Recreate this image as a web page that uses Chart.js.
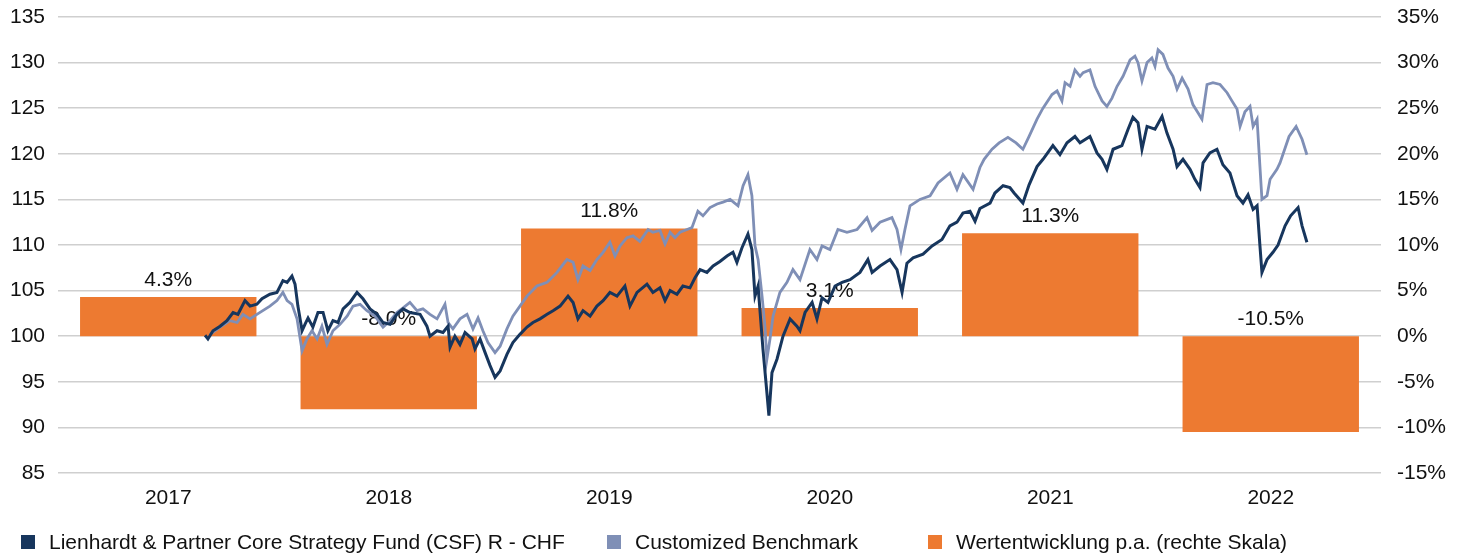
<!DOCTYPE html>
<html>
<head>
<meta charset="utf-8">
<script src="https://cdn.jsdelivr.net/npm/chart.js@4/dist/chart.umd.min.js"></script>
<style>
  html, body { margin: 0; padding: 0; background: #fff; }
  #wrap { width: 1463px; height: 556px; position: relative; }
</style>
</head>
<body>
<div id="wrap"><canvas id="perfChart"></canvas></div>
<script>
// Jahre (Kategorien der Balken)
const years = ['2017', '2018', '2019', '2020', '2021', '2022'];
// Wertentwicklung p.a. in % (rechte Skala)
const yearlyReturns = [4.3, -8.0, 11.8, 3.1, 11.3, -10.5];

// Fonds (indexiert auf 100), Zeit als Dezimaljahr
const fundYears = [
  2017.667, 2017.680, 2017.703, 2017.735, 2017.766, 2017.794, 2017.816, 2017.848, 2017.871, 2017.902,
  2017.925, 2017.961, 2017.993, 2018.020, 2018.039, 2018.061, 2018.075, 2018.088, 2018.107, 2018.120,
  2018.134, 2018.156, 2018.179, 2018.202, 2018.224, 2018.247, 2018.270, 2018.293, 2018.324, 2018.356,
  2018.383, 2018.415, 2018.447, 2018.474, 2018.506, 2018.537, 2018.565, 2018.596, 2018.642, 2018.673,
  2018.687, 2018.719, 2018.746, 2018.769, 2018.778, 2018.800, 2018.823, 2018.846, 2018.878, 2018.891,
  2018.914, 2018.937, 2018.959, 2018.982, 2019.005, 2019.036, 2019.063, 2019.095, 2019.127, 2019.154,
  2019.186, 2019.218, 2019.245, 2019.277, 2019.313, 2019.336, 2019.358, 2019.381, 2019.413, 2019.444,
  2019.472, 2019.503, 2019.535, 2019.571, 2019.594, 2019.626, 2019.671, 2019.698, 2019.730, 2019.753,
  2019.776, 2019.807, 2019.834, 2019.866, 2019.889, 2019.912, 2019.943, 2019.971, 2020.002, 2020.034,
  2020.061, 2020.079, 2020.102, 2020.129, 2020.147, 2020.161, 2020.175, 2020.197, 2020.215, 2020.224,
  2020.238, 2020.261, 2020.288, 2020.320, 2020.351, 2020.365, 2020.388, 2020.420, 2020.442, 2020.465,
  2020.492, 2020.524, 2020.556, 2020.592, 2020.637, 2020.673, 2020.692, 2020.728, 2020.773, 2020.805,
  2020.828, 2020.850, 2020.878, 2020.923, 2020.964, 2021.009, 2021.045, 2021.077, 2021.104, 2021.136,
  2021.159, 2021.181, 2021.227, 2021.249, 2021.286, 2021.317, 2021.336, 2021.376, 2021.404, 2021.440,
  2021.467, 2021.512, 2021.544, 2021.576, 2021.612, 2021.635, 2021.680, 2021.712, 2021.735, 2021.757,
  2021.785, 2021.825, 2021.853, 2021.875, 2021.898, 2021.916, 2021.939, 2021.975, 2022.007, 2022.029,
  2022.057, 2022.075, 2022.102, 2022.134, 2022.156, 2022.179, 2022.193, 2022.224, 2022.256, 2022.283,
  2022.315, 2022.347, 2022.374, 2022.397, 2022.420, 2022.438, 2022.451, 2022.460, 2022.483, 2022.510,
  2022.533, 2022.565, 2022.590, 2022.624, 2022.642, 2022.664
];
const fundValues = [
  100.1, 99.7, 100.6, 101.1, 101.7, 102.6, 102.4, 103.9, 103.3, 103.5,
  104.1, 104.6, 104.8, 106.1, 105.9, 106.6, 105.7, 103.3, 100.6, 101.3,
  102.0, 101.0, 102.6, 102.6, 100.6, 101.7, 101.5, 103.0, 103.7, 104.8,
  104.1, 103.0, 102.4, 101.5, 101.3, 102.4, 103.0, 102.6, 102.4, 101.1,
  100.0, 100.6, 100.4, 101.1, 98.8, 100.0, 99.1, 100.4, 99.7, 98.6,
  99.7, 98.2, 96.8, 95.5, 96.2, 98.0, 99.3, 100.2, 101.0, 101.5,
  101.9, 102.4, 102.8, 103.3, 104.4, 103.7, 101.9, 102.8, 102.2, 103.3,
  103.9, 104.8, 104.4, 105.5, 103.3, 104.8, 105.7, 104.8, 105.3, 103.9,
  105.0, 104.6, 105.5, 105.3, 106.4, 107.3, 107.0, 107.7, 108.2, 108.8,
  109.2, 108.1, 109.7, 111.2, 109.5, 104.4, 105.5, 98.6, 93.8, 91.3,
  96.0, 97.5, 100.0, 101.9, 101.1, 100.6, 102.6, 103.7, 101.9, 104.2,
  103.7, 105.5, 105.9, 106.2, 107.0, 108.4, 107.0, 107.7, 108.4, 107.3,
  104.8, 108.0, 108.6, 109.0, 109.9, 110.6, 112.1, 112.5, 113.5, 113.7,
  112.6, 114.0, 114.6, 115.7, 116.5, 116.3, 115.7, 114.6, 116.6, 118.6,
  119.4, 120.9, 119.9, 121.2, 121.9, 121.2, 121.9, 120.1, 119.4, 118.3,
  120.5, 120.9, 122.7, 124.0, 123.4, 120.5, 123.0, 122.7, 124.1, 122.3,
  120.5, 118.6, 119.4, 118.3, 117.2, 116.3, 119.0, 120.1, 120.5, 118.8,
  117.9, 115.4, 114.6, 115.5, 113.9, 114.3, 109.9, 107.0, 108.4, 109.2,
  110.0, 112.1, 113.2, 114.1, 112.1, 110.3
];

// Customized Benchmark (indexiert auf 100)
const benchYears = [
  2017.689, 2017.735, 2017.780, 2017.812, 2017.839, 2017.871, 2017.902, 2017.961, 2017.993, 2018.020,
  2018.039, 2018.061, 2018.084, 2018.107, 2018.129, 2018.152, 2018.175, 2018.197, 2018.220, 2018.247,
  2018.279, 2018.311, 2018.338, 2018.370, 2018.401, 2018.438, 2018.474, 2018.506, 2018.537, 2018.565,
  2018.596, 2018.628, 2018.655, 2018.687, 2018.719, 2018.755, 2018.769, 2018.791, 2018.823, 2018.855,
  2018.882, 2018.905, 2018.927, 2018.950, 2018.982, 2019.005, 2019.036, 2019.063, 2019.095, 2019.127,
  2019.172, 2019.218, 2019.263, 2019.308, 2019.336, 2019.358, 2019.381, 2019.413, 2019.444, 2019.472,
  2019.503, 2019.526, 2019.549, 2019.580, 2019.608, 2019.639, 2019.676, 2019.698, 2019.730, 2019.753,
  2019.776, 2019.798, 2019.821, 2019.853, 2019.875, 2019.902, 2019.925, 2019.957, 2019.989, 2020.016,
  2020.048, 2020.084, 2020.107, 2020.129, 2020.147, 2020.161, 2020.175, 2020.193, 2020.206, 2020.215,
  2020.229, 2020.243, 2020.274, 2020.306, 2020.333, 2020.365, 2020.410, 2020.442, 2020.465, 2020.501,
  2020.537, 2020.578, 2020.624, 2020.669, 2020.692, 2020.728, 2020.782, 2020.805, 2020.823, 2020.841,
  2020.864, 2020.909, 2020.955, 2020.991, 2021.045, 2021.077, 2021.104, 2021.150, 2021.181, 2021.200,
  2021.236, 2021.268, 2021.308, 2021.345, 2021.376, 2021.404, 2021.440, 2021.467, 2021.508, 2021.531,
  2021.553, 2021.567, 2021.590, 2021.612, 2021.635, 2021.649, 2021.680, 2021.703, 2021.735, 2021.757,
  2021.780, 2021.803, 2021.830, 2021.862, 2021.884, 2021.898, 2021.916, 2021.939, 2021.961, 2021.975,
  2021.989, 2022.011, 2022.034, 2022.057, 2022.075, 2022.098, 2022.125, 2022.147, 2022.170, 2022.188,
  2022.211, 2022.238, 2022.270, 2022.302, 2022.324, 2022.347, 2022.361, 2022.383, 2022.406, 2022.420,
  2022.438, 2022.451, 2022.460, 2022.483, 2022.497, 2022.528, 2022.542, 2022.583, 2022.615, 2022.642,
  2022.664
];
const benchValues = [
  100.2, 101.0, 101.7, 101.5, 102.4, 101.9, 102.4, 103.3, 103.9, 104.8,
  103.9, 103.5, 101.9, 98.4, 99.7, 100.6, 99.7, 101.1, 99.1, 100.6,
  101.3, 102.2, 103.3, 103.5, 102.8, 102.2, 101.0, 101.7, 102.6, 103.1,
  103.7, 102.8, 103.0, 102.4, 101.9, 103.5, 101.5, 100.8, 101.9, 102.4,
  100.8, 102.0, 100.6, 99.3, 98.2, 98.9, 100.8, 102.2, 103.3, 104.4,
  105.5, 105.9, 107.0, 108.4, 108.1, 106.2, 107.7, 107.2, 108.4, 109.2,
  110.3, 108.8, 109.9, 110.8, 111.0, 110.4, 111.7, 111.4, 111.6, 110.1,
  111.4, 110.8, 111.4, 111.7, 111.9, 113.7, 113.2, 114.1, 114.5, 114.7,
  115.0, 114.3, 116.5, 117.7, 115.4, 109.9, 108.4, 104.4, 101.1, 97.5,
  99.7, 102.2, 104.8, 105.9, 107.3, 106.2, 109.5, 108.4, 109.9, 109.5,
  111.7, 111.4, 111.7, 113.0, 111.6, 112.5, 113.0, 111.7, 109.5, 111.7,
  114.3, 115.0, 115.4, 116.8, 117.9, 116.1, 117.7, 116.1, 118.5, 119.4,
  120.5, 121.2, 121.8, 121.2, 120.5, 121.9, 123.8, 125.0, 126.5, 126.9,
  125.8, 127.8, 127.4, 129.2, 128.5, 128.9, 129.2, 127.4, 125.8, 125.2,
  126.1, 127.4, 128.5, 130.3, 130.7, 130.0, 128.0, 130.0, 130.5, 129.6,
  131.4, 130.9, 129.4, 128.5, 127.1, 128.3, 127.1, 125.4, 124.5, 123.8,
  127.6, 127.8, 127.6, 126.7, 125.8, 124.9, 123.0, 124.6, 125.2, 123.0,
  123.8, 118.6, 115.0, 115.4, 117.2, 118.3, 119.0, 121.9, 123.0, 121.6,
  119.9
];

// Achsenbeschriftungen
const leftTicks = [85, 90, 95, 100, 105, 110, 115, 120, 125, 130, 135];
const rightTicks = [-15, -10, -5, 0, 5, 10, 15, 20, 25, 30, 35];

const legendItems = [
  'Lienhardt & Partner Core Strategy Fund (CSF) R - CHF',
  'Customized Benchmark',
  'Wertentwicklung p.a. (rechte Skala)'
];

const NAVY = '#17365D';
const SLATE = '#7F8FB6';
const ORANGE = '#ED7A31';
const FONT = '"Liberation Sans", Arial, sans-serif';

function toPoints(xs, ys) {
    return xs.map((x, i) => ({ x: x, y: ys[i] }));
}

// Prozentwerte oberhalb der Balken (unter den Linien gezeichnet)
const barLabels = {
    id: 'barLabels',
    afterDatasetDraw(chart, args) {
        if (args.index !== 2) return;
        const ctx = chart.ctx;
        const meta = args.meta;
        const zeroY = chart.scales.y1.getPixelForValue(0);
        ctx.save();
        ctx.font = '21px ' + FONT;
        ctx.fillStyle = '#111';
        ctx.textAlign = 'center';
        ctx.textBaseline = 'middle';
        meta.data.forEach((bar, i) => {
            const top = Math.min(bar.y, zeroY);
            ctx.fillText(yearlyReturns[i].toFixed(1) + '%', bar.x, top - 17);
        });
        ctx.restore();
    }
};

// Legende wie im Original, mit festen Abständen
const legendRow = {
    id: 'legendRow',
    afterDraw(chart) {
        const ctx = chart.ctx;
        const colors = [NAVY, SLATE, ORANGE];
        const boxX = [21, 607, 928];
        ctx.save();
        ctx.font = '21px ' + FONT;
        ctx.textBaseline = 'middle';
        ctx.textAlign = 'left';
        legendItems.forEach((txt, i) => {
            ctx.fillStyle = colors[i];
            ctx.fillRect(boxX[i], 535, 14, 14);
            ctx.fillStyle = '#111';
            ctx.fillText(txt, boxX[i] + 28, 543);
        });
        ctx.restore();
    }
};

// y-Achsen: feste Breite, kein Zusatzrand oben/unten
function fixYAxis(width) {
    return function(scale) {
        scale.width = width;
        scale.paddingTop = 0;
        scale.paddingBottom = 0;
    };
}

const ctx = document.getElementById('perfChart').getContext('2d');

const perfChart = new Chart(ctx, {
    type: 'bar',
    data: {
        labels: years,
        datasets: [
            {
                type: 'line',
                label: legendItems[0],
                data: toPoints(fundYears, fundValues),
                xAxisID: 'xt',
                yAxisID: 'y',
                borderColor: NAVY,
                borderWidth: 3,
                pointRadius: 0,
                tension: 0,
                order: 1
            },
            {
                type: 'line',
                label: legendItems[1],
                data: toPoints(benchYears, benchValues),
                xAxisID: 'xt',
                yAxisID: 'y',
                borderColor: SLATE,
                borderWidth: 2.8,
                pointRadius: 0,
                tension: 0,
                order: 2
            },
            {
                type: 'bar',
                label: legendItems[2],
                data: yearlyReturns,
                xAxisID: 'x',
                yAxisID: 'y1',
                backgroundColor: ORANGE,
                grouped: false,
                barPercentage: 1.0,
                categoryPercentage: 0.8,
                order: 3
            }
        ]
    },
    options: {
        responsive: true,
        maintainAspectRatio: false,
        animation: false,
        layout: {
            padding: { top: 17, left: 0, right: 0, bottom: 0 }
        },
        scales: {
            x: {
                type: 'category',
                offset: true,
                grid: { display: false, drawTicks: false },
                border: { display: false },
                ticks: {
                    padding: 13,
                    color: '#111',
                    font: { family: FONT, size: 21 }
                },
                afterFit: function(scale) { scale.height = 83; }
            },
            xt: {
                type: 'linear',
                display: false,
                offset: false,
                min: 2017,
                max: 2023
            },
            y: {
                position: 'left',
                min: 85,
                max: 135,
                afterBuildTicks: function(scale) {
                    scale.ticks = leftTicks.map(v => ({ value: v }));
                },
                grid: { color: '#CFCFCF', lineWidth: 1.5, drawTicks: false },
                border: { display: false },
                ticks: {
                    padding: 13,
                    color: '#111',
                    font: { family: FONT, size: 21 }
                },
                afterFit: fixYAxis(58)
            },
            y1: {
                position: 'right',
                min: -15,
                max: 35,
                afterBuildTicks: function(scale) {
                    scale.ticks = rightTicks.map(v => ({ value: v }));
                },
                grid: { display: false, drawTicks: false },
                border: { display: false },
                ticks: {
                    padding: 16,
                    color: '#111',
                    font: { family: FONT, size: 21 },
                    callback: function(value) { return value + '%'; }
                },
                afterFit: fixYAxis(82)
            }
        },
        plugins: {
            legend: { display: false },
            tooltip: { enabled: false }
        }
    },
    plugins: [barLabels, legendRow]
});
</script>
</body>
</html>
